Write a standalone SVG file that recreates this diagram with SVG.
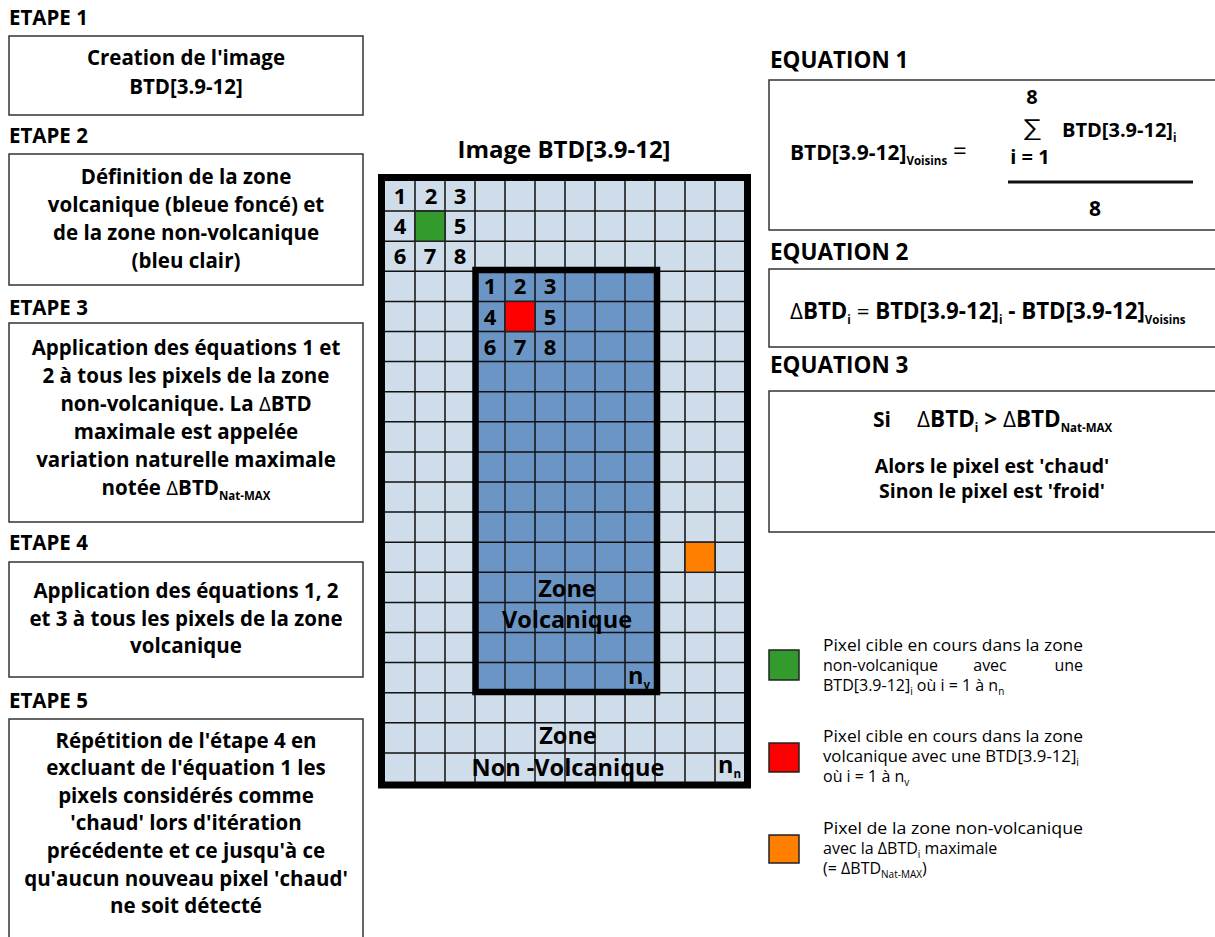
<svg xmlns="http://www.w3.org/2000/svg" width="1215" height="937" viewBox="0 0 1215 937">
<style>
text{font-family:"Open Sans","Noto Sans","Liberation Sans",sans-serif;fill:#000}
.lbl{font-size:20.5px;font-weight:bold}
.eqlbl{font-size:22.5px;font-weight:bold}
.bx{font-size:20.5px;font-weight:bold;text-anchor:middle}
.box{fill:#fff;stroke:#333;stroke-width:1.5}
.eq{font-size:21px;font-weight:bold}
.sub{font-size:11.5px;font-weight:bold}
.thin{font-weight:normal}
.num{font-size:22px;font-weight:bold;text-anchor:middle}
.zone{font-size:23.5px;font-weight:bold;text-anchor:middle}
.leg{font-size:16px;font-weight:normal}
.lsub{font-size:10px}
.cell{stroke:#222;stroke-width:1.5}
</style>

<g id="etape1">
<text class="lbl" x="9" y="25">ETAPE 1</text>
<rect class="box" x="9" y="36" width="354" height="79"/>
<text class="bx" x="186" y="65">Creation de l'image</text>
<text class="bx" x="186" y="94">BTD[3.9-12]</text>
</g>
<g id="etape2">
<text class="lbl" x="9" y="143">ETAPE 2</text>
<rect class="box" x="9" y="154" width="354" height="131"/>
<text class="bx" x="186" y="184">Définition de la zone</text>
<text class="bx" x="186" y="212">volcanique (bleue foncé) et</text>
<text class="bx" x="186" y="240">de la zone non-volcanique</text>
<text class="bx" x="186" y="268">(bleu clair)</text>
</g>
<g id="etape3">
<text class="lbl" x="9" y="315">ETAPE 3</text>
<rect class="box" x="9" y="323" width="354" height="199"/>
<text class="bx" x="186" y="355">Application des équations 1 et</text>
<text class="bx" x="186" y="383">2 à tous les pixels de la zone</text>
<text class="bx" x="186" y="411">non-volcanique. La <tspan class="thin">Δ</tspan>BTD</text>
<text class="bx" x="186" y="439">maximale est appelée</text>
<text class="bx" x="186" y="467">variation naturelle maximale</text>
<text class="bx" x="186" y="495">notée <tspan class="thin">Δ</tspan>BTD<tspan class="sub" dy="5">Nat-MAX</tspan></text>
</g>
<g id="etape4">
<text class="lbl" x="9" y="550">ETAPE 4</text>
<rect class="box" x="9" y="562" width="354" height="115"/>
<text class="bx" x="186" y="598">Application des équations 1, 2</text>
<text class="bx" x="186" y="626">et 3 à tous les pixels de la zone</text>
<text class="bx" x="186" y="653">volcanique</text>
</g>
<g id="etape5">
<text class="lbl" x="9" y="708">ETAPE 5</text>
<rect class="box" x="9" y="719" width="354" height="240"/>
<text class="bx" x="186" y="748">Répétition de l'étape 4 en</text>
<text class="bx" x="186" y="775">excluant de l'équation 1 les</text>
<text class="bx" x="186" y="803">pixels considérés comme</text>
<text class="bx" x="186" y="830">'chaud' lors d'itération</text>
<text class="bx" x="186" y="858">précédente et ce jusqu'à ce</text>
<text class="bx" x="186" y="886">qu'aucun nouveau pixel 'chaud'</text>
<text class="bx" x="186" y="913">ne soit détecté</text>
</g>

<g id="image">
<text class="zone" x="564" y="158" style="font-size:24px">Image BTD[3.9-12]</text>
<rect x="385" y="181" width="360" height="602" fill="#cfdcea"/>
<rect x="475" y="271.3" width="180" height="421.4" fill="#6b95c5"/>
<path d="M415 181V783M445 181V783M475 181V783M505 181V783M535 181V783M565 181V783M595 181V783M625 181V783M655 181V783M685 181V783M715 181V783M385 211.1H745M385 241.2H745M385 271.3H745M385 301.4H745M385 331.5H745M385 361.6H745M385 391.7H745M385 421.8H745M385 451.9H745M385 482H745M385 512.1H745M385 542.2H745M385 572.3H745M385 602.4H745M385 632.5H745M385 662.6H745M385 692.7H745M385 722.8H745M385 752.9H745" stroke="#111" stroke-width="1.5" fill="none"/>
<rect class="cell" x="415" y="211.1" width="30" height="30.1" fill="#339a2e"/>
<rect class="cell" x="505" y="301.4" width="30" height="30.1" fill="#ff0000"/>
<rect class="cell" x="685" y="542.2" width="30" height="30.1" fill="#ff8000"/>
<rect x="475.5" y="270" width="181.5" height="422" fill="none" stroke="#000" stroke-width="6.5"/>
<rect x="381.5" y="177.5" width="366" height="607.5" fill="none" stroke="#000" stroke-width="7"/>
<text class="num" x="400" y="204">1</text><text class="num" x="431" y="204">2</text><text class="num" x="460" y="204">3</text>
<text class="num" x="400" y="234">4</text><text class="num" x="460" y="234">5</text>
<text class="num" x="400" y="264">6</text><text class="num" x="430" y="264">7</text><text class="num" x="460" y="264">8</text>
<text class="num" x="490" y="294">1</text><text class="num" x="520" y="294">2</text><text class="num" x="550" y="294">3</text>
<text class="num" x="490" y="325">4</text><text class="num" x="550" y="325">5</text>
<text class="num" x="490" y="355">6</text><text class="num" x="520" y="355">7</text><text class="num" x="550" y="355">8</text>
<text class="zone" x="567" y="597">Zone</text>
<text class="zone" x="567" y="628">Volcanique</text>
<text class="zone" x="568" y="744">Zone</text>
<text class="zone" x="568" y="776">Non -Volcanique</text>
<text class="zone" x="628" y="684" style="text-anchor:start">n<tspan class="sub" dy="5">v</tspan></text>
<text class="zone" x="718" y="773" style="text-anchor:start">n<tspan class="sub" dy="5">n</tspan></text>
</g>

<g id="equation1">
<text class="eqlbl" x="770" y="68">EQUATION 1</text>
<rect class="box" x="769" y="80" width="460" height="150"/>
<text class="eq" x="790" y="160">BTD[3.9-12]<tspan class="sub" dy="5">Voisins</tspan></text>
<text class="thin" x="953" y="159" style="font-size:24px">=</text>
<text class="eq" x="1032" y="104" text-anchor="middle" style="font-size:20px">8</text>
<text class="thin" transform="translate(1032 135) scale(1.3 1)" x="0" y="0" text-anchor="middle" style="font-size:22px">∑</text>
<text class="eq" x="1030" y="164" text-anchor="middle" style="font-size:20px">i = 1</text>
<text class="eq" x="1062" y="137" style="font-size:20px">BTD[3.9-12]<tspan class="sub" dy="5">i</tspan></text>
<line x1="1008" y1="182" x2="1193" y2="182" stroke="#111" stroke-width="3"/>
<text class="eq" x="1095" y="216" text-anchor="middle">8</text>
</g>
<g id="equation2">
<text class="eqlbl" x="770" y="260">EQUATION 2</text>
<rect class="box" x="769" y="269" width="460" height="78"/>
<text class="eq" x="790" y="319" style="font-size:22.3px"><tspan class="thin">Δ</tspan>BTD<tspan class="sub" dy="5">i</tspan><tspan dy="-5"> </tspan><tspan class="thin">=</tspan> BTD[3.9-12]<tspan class="sub" dy="5">i</tspan><tspan dy="-5"> - BTD[3.9-12]</tspan><tspan class="sub" dy="5">Voisins</tspan></text>
</g>
<g id="equation3">
<text class="eqlbl" x="770" y="373">EQUATION 3</text>
<rect class="box" x="769" y="391" width="460" height="141"/>
<text class="eq" x="873" y="427">Si</text>
<text class="eq" x="917" y="427" style="font-size:22.5px"><tspan class="thin">Δ</tspan>BTD<tspan class="sub" dy="5">i</tspan><tspan dy="-5"> &gt; </tspan><tspan class="thin">Δ</tspan>BTD<tspan class="sub" dy="5">Nat-MAX</tspan></text>
<text class="eq" x="992" y="473" text-anchor="middle" style="font-size:19.5px">Alors le pixel est 'chaud'</text>
<text class="eq" x="992" y="498" text-anchor="middle" style="font-size:19.5px">Sinon le pixel est 'froid'</text>
</g>

<g id="legend-green">
<rect class="cell" x="769" y="650" width="30" height="30" fill="#339a2e"/>
<text class="leg" x="823" y="651" textLength="260" lengthAdjust="spacingAndGlyphs">Pixel cible en cours dans la zone</text>
<text class="leg" x="823" y="671">non-volcanique</text>
<text class="leg" x="990" y="671" text-anchor="middle">avec</text>
<text class="leg" x="1083" y="671" text-anchor="end">une</text>
<text class="leg" x="823" y="691">BTD[3.9-12]<tspan class="lsub" dy="4">i</tspan><tspan dy="-4"> où i = 1 à n</tspan><tspan class="lsub" dy="4">n</tspan></text>
</g>
<g id="legend-red">
<rect class="cell" x="769" y="743" width="30" height="29" fill="#ff0000"/>
<text class="leg" x="823" y="742" textLength="260" lengthAdjust="spacingAndGlyphs">Pixel cible en cours dans la zone</text>
<text class="leg" x="823" y="762" textLength="256" lengthAdjust="spacingAndGlyphs">volcanique avec une BTD[3.9-12]<tspan class="lsub" dy="4">i</tspan></text>
<text class="leg" x="823" y="782">où i = 1 à n<tspan class="lsub" dy="4">v</tspan></text>
</g>
<g id="legend-orange">
<rect class="cell" x="769" y="835" width="30" height="28" fill="#ff8000"/>
<text class="leg" x="823" y="834" textLength="260" lengthAdjust="spacingAndGlyphs">Pixel de la zone non-volcanique</text>
<text class="leg" x="823" y="854">avec la ΔBTD<tspan class="lsub" dy="4">i</tspan><tspan dy="-4"> maximale</tspan></text>
<text class="leg" x="823" y="874">(= ΔBTD<tspan class="lsub" dy="4">Nat-MAX</tspan><tspan dy="-4">)</tspan></text>
</g>
</svg>
